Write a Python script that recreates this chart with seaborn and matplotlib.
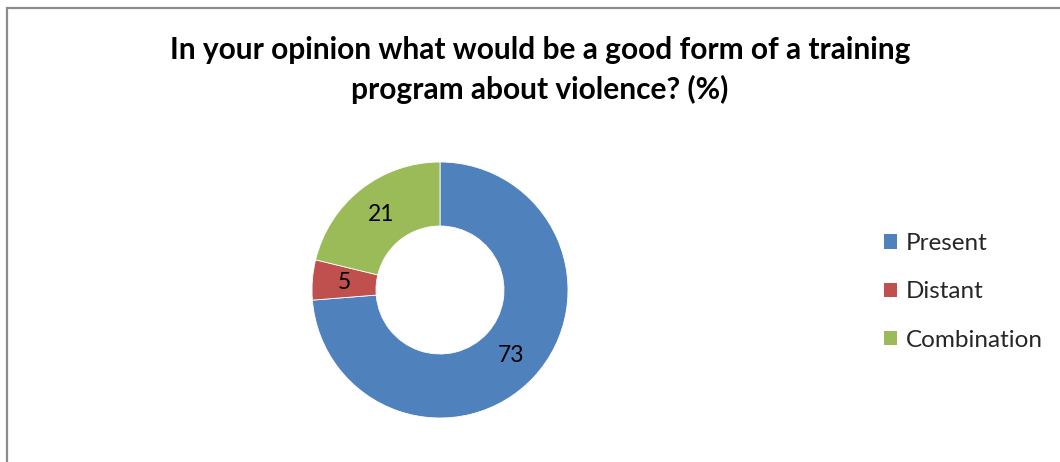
import matplotlib
matplotlib.use("Agg")
import matplotlib.pyplot as plt
import seaborn as sns
import numpy as np
from matplotlib.patches import Rectangle, Patch

# Survey answers (%)
categories = ["Present", "Distant", "Combination"]
values = [73, 5, 21]
colors = ["#4F81BD", "#C0504D", "#9BBB59"]
title = "In your opinion what would be a good form of a training\nprogram about violence? (%)"

sns.set_theme(style="white")
plt.rcParams["font.family"] = ["Lato", "DejaVu Sans"]

fig = plt.figure(figsize=(10.6, 4.62), dpi=100)
ax = fig.add_axes([312 / 1060, 44 / 462, 256 / 1060, 256 / 462])

wedges, _ = ax.pie(
    values,
    colors=colors,
    startangle=90,
    counterclock=False,
    radius=1.0,
    wedgeprops=dict(width=0.5, edgecolor="white", linewidth=0.6),
)
ax.set_xlim(-1, 1)
ax.set_ylim(-1, 1)
ax.set_aspect("equal")
ax.axis("off")

# value labels at the middle of each ring segment
for w, v in zip(wedges, values):
    ang = np.deg2rad((w.theta1 + w.theta2) / 2)
    r = 0.75
    ax.text(r * np.cos(ang), r * np.sin(ang), f"{v}", ha="center", va="center",
            fontsize=16.5, color="black")

fig.text(540 / 1060, 1 - 70 / 462, title, ha="center", va="center",
         fontsize=21.5, fontweight="bold", linespacing=1.45, color="black")

handles = [Patch(facecolor=c, edgecolor="none", label=l) for c, l in zip(colors, categories)]
fig.legend(handles=handles, loc="center left", bbox_to_anchor=(884 / 1060, 1 - 292 / 462),
           frameon=False, fontsize=17.5, handlelength=0.55, handleheight=0.55,
           handletextpad=0.35, labelspacing=1.12, borderpad=0, borderaxespad=0)

# chart frame
fig.patches.append(Rectangle((7 / 1060, -0.1), 1.2, 1 - 8 / 462 + 0.1,
                             transform=fig.transFigure, fill=False,
                             edgecolor="#8c8c8c", linewidth=1.6))

fig.savefig("out.png", dpi=100, facecolor="white")
